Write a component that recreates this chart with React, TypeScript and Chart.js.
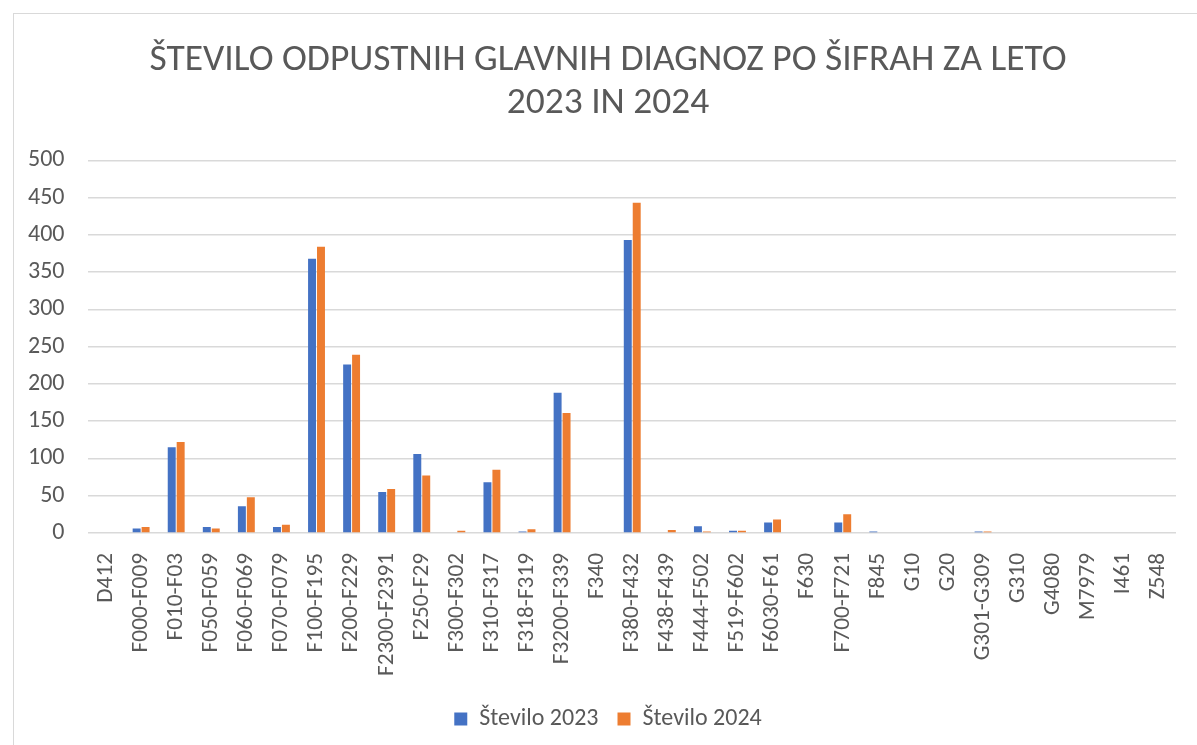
import React, { useEffect, useRef } from "react";
import { Chart, registerables } from "chart.js";

Chart.register(...registerables);

const categories = [
  "D412", "F000-F009", "F010-F03", "F050-F059", "F060-F069", "F070-F079",
  "F100-F195", "F200-F229", "F2300-F2391", "F250-F29", "F300-F302", "F310-F317",
  "F318-F319", "F3200-F339", "F340", "F380-F432", "F438-F439", "F444-F502",
  "F519-F602", "F6030-F61", "F630", "F700-F721", "F845", "G10", "G20",
  "G301-G309", "G310", "G4080", "M7979", "I461", "Z548",
];

const values2023 = [
  0, 6, 115, 8, 36, 8, 368, 226, 55, 106, 0, 68, 2, 188, 0, 393, 0, 9, 3, 14,
  0, 14, 2, 0, 0, 2, 0, 0, 0, 0, 0,
];

const values2024 = [
  0, 8, 122, 6, 48, 11, 384, 239, 59, 77, 3, 85, 5, 161, 0, 443, 4, 2, 3, 18,
  0, 25, 0, 0, 0, 2, 0, 0, 0, 0, 0,
];

const seriesLabels = ["Število 2023", "Število 2024"];
const titleLines = ["ŠTEVILO ODPUSTNIH GLAVNIH DIAGNOZ PO ŠIFRAH ZA LETO", "2023 IN 2024"];
const yTicks = [0, 50, 100, 150, 200, 250, 300, 350, 400, 450, 500];

const FONT = "Carlito, 'Open Sans', 'Noto Sans', sans-serif";
const TEXT = "#595959";
const CANVAS_W = 1217;

export default function App() {
  const ref = useRef<HTMLCanvasElement | null>(null);

  useEffect(() => {
    if (!ref.current) return;
    const chart = new Chart(ref.current, {
      type: "bar",
      data: {
        labels: categories,
        datasets: [
          {
            label: seriesLabels[0],
            data: values2023,
            backgroundColor: "#4472C4",
            categoryPercentage: 0.51,
            barPercentage: 0.89,
          },
          {
            label: seriesLabels[1],
            data: values2024,
            backgroundColor: "#ED7D31",
            categoryPercentage: 0.51,
            barPercentage: 0.89,
          },
        ],
      },
      options: {
        animation: false,
        responsive: false,
        maintainAspectRatio: false,
        layout: { padding: { left: 4, right: 5, top: 39, bottom: 4 } },
        plugins: {
          title: {
            display: true,
            text: titleLines,
            color: TEXT,
            font: { family: FONT, size: 37.5, weight: 300, lineHeight: 1.15 },
            padding: { top: 0, bottom: 35 },
          },
          legend: {
            position: "bottom",
            labels: {
              color: TEXT,
              font: { family: FONT, size: 24 },
              boxWidth: 13,
              boxHeight: 13,
              padding: 19,
            },
          },
          tooltip: { enabled: false },
        },
        scales: {
          x: {
            grid: { display: false },
            border: { display: false },
            ticks: {
              color: TEXT,
              font: { family: FONT, size: 23.3 },
              minRotation: 90,
              maxRotation: 90,
              autoSkip: false,
              padding: 12,
            },
          },
          y: {
            min: 0,
            max: 500,
            afterBuildTicks: (axis: any) => {
              axis.ticks = yTicks.map((v) => ({ value: v }));
            },
            grid: { color: "#d9d9d9", lineWidth: 1.5, drawTicks: false },
            border: { display: false },
            ticks: {
              color: TEXT,
              font: { family: FONT, size: 24 },
              padding: 24,
            },
          },
          yRight: {
            position: "right",
            min: 0,
            max: 500,
            grid: { display: false, drawTicks: false },
            border: { display: false },
            ticks: { display: false },
            afterFit: (scale: any) => {
              scale.width = 36;
            },
          },
        },
      },
    });
    return () => chart.destroy();
  }, []);

  return (
    <div
      style={{
        position: "fixed",
        left: 0,
        top: 0,
        width: 1197,
        height: 745,
        overflow: "hidden",
        background: "#ffffff",
      }}
    >
      <div
        style={{
          position: "absolute",
          left: 13,
          top: 13,
          width: 1200,
          height: 760,
          border: "1px solid #d9d9d9",
          boxSizing: "border-box",
        }}
      />
      <canvas
        ref={ref}
        width={CANVAS_W}
        height={745}
        style={{ position: "absolute", left: 0, top: 0, width: CANVAS_W, height: 745 }}
      />
    </div>
  );
}
